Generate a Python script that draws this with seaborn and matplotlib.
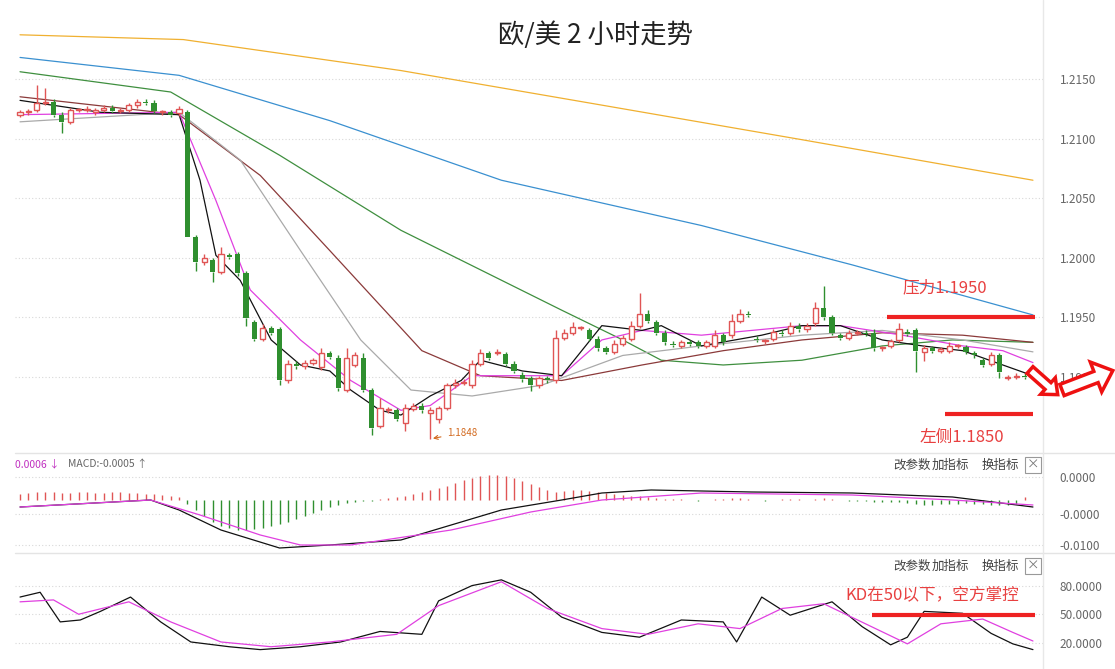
import numpy as np
import pandas as pd
import seaborn as sns
import matplotlib.pyplot as plt
from matplotlib.patches import FancyArrow
from matplotlib.lines import Line2D
from matplotlib.transforms import IdentityTransform

# ---- candles ----
opens = [1.2120,1.2122,1.2124,1.2130,1.2131,1.2120,1.2114,1.2124,1.2124,1.2122,
         1.2124,1.2126,1.2123,1.2124,1.2128,1.2131,1.2130,1.2122,1.2122,1.2121,
         1.2122,1.2017,1.1996,1.1998,1.1988,1.2002,1.2003,1.1987,1.1946,1.1932,
         1.1941,1.1940,1.1897,1.1911,1.1909,1.1912,1.1908,1.1920,1.1916,1.1889,
         1.1910,1.1916,1.1889,1.1859,1.1872,1.1872,1.1861,1.1873,1.1876,1.1870,
         1.1865,1.1874,1.1893,1.1895,1.1893,1.1911,1.1920,1.1920,1.1919,1.1911,
         1.1902,1.1899,1.1893,1.1899,1.1897,1.1933,1.1937,1.1941,1.1939,1.1932,
         1.1924,1.1921,1.1928,1.1932,1.1943,1.1953,1.1946,1.1937,1.1928,1.1926,
         1.1929,1.1929,1.1926,1.1926,1.1935,1.1935,1.1947,1.1953,1.1932,1.1930,
         1.1932,1.1937,1.1937,1.1943,1.1940,1.1945,1.1958,1.1950,1.1935,1.1933,
         1.1937,1.1937,1.1937,1.1924,1.1926,1.1931,1.1938,1.1939,1.1921,1.1924,
         1.1922,1.1922,1.1926,1.1925,1.1920,1.1914,1.1911,1.1918,1.1899,1.1900,1.1901]
closes = [1.2122,1.2123,1.2130,1.2131,1.2120,1.2114,1.2124,1.2124,1.2125,1.2124,
          1.2126,1.2123,1.2124,1.2128,1.2131,1.2130,1.2123,1.2122,1.2120,1.2125,
          1.2017,1.1996,1.2000,1.1988,1.2003,1.2001,1.1987,1.1949,1.1932,1.1941,
          1.1937,1.1897,1.1911,1.1909,1.1912,1.1914,1.1920,1.1917,1.1891,1.1916,
          1.1918,1.1889,1.1857,1.1874,1.1873,1.1865,1.1874,1.1876,1.1872,1.1872,
          1.1874,1.1893,1.1895,1.1896,1.1911,1.1920,1.1916,1.1921,1.1911,1.1905,
          1.1898,1.1893,1.1899,1.1897,1.1933,1.1937,1.1942,1.1941,1.1932,1.1924,
          1.1921,1.1928,1.1933,1.1943,1.1953,1.1947,1.1937,1.1929,1.1927,1.1929,
          1.1928,1.1926,1.1929,1.1935,1.1929,1.1947,1.1953,1.1952,1.1931,1.1930,
          1.1938,1.1936,1.1943,1.1940,1.1943,1.1958,1.1950,1.1937,1.1933,1.1937,
          1.1937,1.1936,1.1924,1.1924,1.1930,1.1940,1.1936,1.1922,1.1924,1.1922,
          1.1923,1.1926,1.1926,1.1921,1.1918,1.1910,1.1918,1.1904,1.1900,1.1901,1.1900]
# wick lengths in pips above / below the body
wick_up = [2,2,15,11,2,2,2,2,2,2, 2,2,2,2,2,2,2,2,2,2,
           2,2,3,2,6,2,2,2,2,3, 2,2,3,2,2,2,4,2,2,8,
           3,4,2,8,2,2,3,2,2,3, 2,2,3,2,3,3,2,2,2,2,
           2,2,2,2,6,3,4,2,2,2, 2,3,2,4,17,3,2,2,2,2,
           2,2,2,4,2,6,4,2,2,2, 2,2,3,2,2,5,18,2,2,2,
           2,2,3,2,2,5,2,2,3,2, 2,3,2,2,2,2,3,2,2,2,2]
wick_dn = [2,2,2,2,2,9,2,2,2,2, 2,2,2,2,2,2,2,2,2,2,
           0,7,2,8,2,2,2,6,2,2, 2,4,2,2,2,2,2,2,3,2,
           2,2,6,2,2,2,6,2,2,22, 4,2,2,2,2,2,2,2,2,2,
           2,5,2,2,2,2,2,2,2,2, 2,2,2,2,2,2,2,2,2,2,
           2,2,2,2,2,2,2,2,2,2, 2,2,2,2,2,2,2,2,2,2,
           2,2,2,2,2,2,2,18,8,2, 2,2,2,2,2,2,2,5,2,2,2]

# ---- moving averages (bar index, price) ----
ma_yellow = [(0,1.2187),(19.5,1.2183),(45.5,1.2157),(69.5,1.2128),(93.4,1.2099),(121,1.2065)]
ma_blue = [(0,1.2168),(19,1.2153),(37,1.2115),(57.5,1.2065),(81.4,1.2027),(99.4,1.1994),(121,1.1952)]
ma_green = [(0,1.2156),(18,1.2139),(31,1.2086),(45.5,1.2023),(64.7,1.1956),(72,1.1931),(76.6,1.1914),
            (84,1.1910),(93.4,1.1914),(103,1.1926),(111.4,1.1931),(121,1.1929)]
ma_brown = [(0,1.2135),(19,1.2120),(28.7,1.2069),(37,1.2006),(48,1.1922),(55,1.1901),(64.7,1.1897),
            (74.3,1.1910),(84,1.1922),(93.4,1.1931),(103,1.1937),(112.6,1.1935),(121,1.1929)]
ma_gray = [(0,1.2114),(19,1.2122),(26.3,1.2082),(33.5,1.2006),(40.7,1.1931),(46.7,1.1889),(54,1.1884),
           (62.3,1.1893),(72,1.1918),(81.4,1.1926),(93.4,1.1935),(103,1.1939),(112.6,1.1931),(121,1.1921)]
ma_magenta = [(0,1.2120),(19,1.2122),(23.4,1.2048),(27.5,1.1973),(33.5,1.1931),(39.5,1.1897),(45.5,1.1872),
              (49,1.1876),(54,1.1901),(60,1.1901),(64.7,1.1901),(69.5,1.1931),(74.3,1.1939),(81.4,1.1935),
              (93.4,1.1943),(98,1.1943),(105.4,1.1935),(112.6,1.1926),(117.4,1.1922),(121,1.1912)]
ma_black = [(0,1.2132),(9.6,1.2122),(19,1.2120),(21.5,1.2065),(23.4,1.2002),(26.3,1.1981),(30,1.1931),
            (33.5,1.1910),(37,1.1905),(39.5,1.1889),(43,1.1872),(45.5,1.1868),(49,1.1884),(52.7,1.1897),
            (55,1.1914),(60,1.1905),(64.7,1.1901),(69.5,1.1943),(74.3,1.1939),(76.6,1.1943),(81.4,1.1926),
            (88.6,1.1935),(93.4,1.1943),(98,1.1943),(103,1.1931),(107.8,1.1926),(112.6,1.1922),
            (117.4,1.1910),(121,1.1901)]

# ---- MACD ----
macd_hist = [6,7,8,8,8,7,7,8,8,7, 7,8,8,7,7,6,6,5,4,3,
             -4,-10,-16,-22,-26,-28,-30,-30,-29,-28, -26,-24,-22,-19,-16,-13,-10,-7,-5,-3,
             -2,-1,-1,1,2,3,4,6,8,10, 12,14,17,20,22,24,25,25,24,22,
             19,16,13,10,8,9,10,10,9,8, 7,6,5,4,4,3,2,1,1,1,
             0,-1,0,1,1,2,2,1,0,-1, 0,1,1,1,0,1,2,1,0,-1,
             -1,-1,-2,-2,-2,-2,-3,-4,-5,-5, -4,-4,-4,-3,-4,-4,-5,-5,-5,-4,3]
macd_dif = [(0,-7),(15.6,0),(19,-10),(24,-30),(31,-48),(37,-45),(45.5,-40),(51.5,-25),(57.5,-10),
            (64.7,0),(69.5,7),(75.4,10),(87.4,8),(99.4,7),(111.4,3),(121,-7)]
macd_dea = [(0,-7),(15.6,0),(21.5,-15),(28.7,-35),(33.5,-45),(39.5,-45),(51.5,-30),(61,-12),
            (69.5,0),(81.4,7),(99.4,5),(111.4,0),(121,-5)]
macd_ticks = [23, -14, -45]
macd_labels = ['0.0000', '-0.0000', '-0.0100']

# ---- KD ----
kd_k = [(0,68),(2.4,73),(4.8,42),(7.2,44),(9.6,53),(13.2,68),(16.8,42),(20.4,21),(25,16),(28.7,13),
        (33.5,16),(38.3,21),(43,32),(48,29),(50,64),(54,80),(57.5,86),(61,73),(64.7,47),(69.5,31),
        (74,26),(79,44),(84,42),(85.6,21),(88.6,68),(92,49),(97,63),(100.6,37),(104,18),(106,26),
        (108,53),(112.6,51),(116,30),(118.6,19),(121,13)]
kd_d = [(0,63),(4,65),(7,50),(13,63),(18,42),(24,21),(30,16),(37,21),(45,29),(50,59),(57.5,84),
        (63,56),(69.5,35),(75,29),(81,40),(86,35),(91,56),(96,61),(101,40),(106,19),(110,40),
        (115,45),(118.6,31),(121,22)]

price_ticks = [1.2150, 1.2100, 1.2050, 1.2000, 1.1950, 1.1900]

sns.set_style('white')
plt.rcParams['font.family'] = ['Noto Sans CJK SC', 'DejaVu Sans']

fig = plt.figure(figsize=(11.15, 6.69), dpi=100)
L, Wd = 15/1115, 1028/1115
ax = fig.add_axes([L, 1-452/669, Wd, 447/669])
ax2 = fig.add_axes([L, 1-552/669, Wd, 97/669])
ax3 = fig.add_axes([L, 1-652/669, Wd, 97/669])
XL = (-0.6, 122.2)

def line(a, pts, color, lw=0.9):
    d = pd.DataFrame(pts, columns=['x', 'y'])
    sns.lineplot(data=d, x='x', y='y', ax=a, color=color, lw=lw, estimator=None, sort=False)

# candles
df = pd.DataFrame({'o': opens, 'c': closes, 'wu': wick_up, 'wd': wick_dn})
df['i'] = np.arange(len(df))
df['top'] = df[['o', 'c']].max(axis=1)
df['bot'] = df[['o', 'c']].min(axis=1)
up = df['c'] >= df['o']
red, green = '#e05555', '#2f8f2f'
for m, col in [(up, red), (~up, green)]:
    s = df[m]
    ax.vlines(s['i'], s['bot'] - s['wd']*1e-4, s['bot'], color=col, lw=1, zorder=3)
    ax.vlines(s['i'], s['top'], s['top'] + s['wu']*1e-4, color=col, lw=1, zorder=3)
h = (df['top'] - df['bot']).clip(lower=0.00008)
ax.bar(df['i'][up], h[up], bottom=df['bot'][up], width=0.62, facecolor='white', edgecolor=red, lw=1, zorder=4)
ax.bar(df['i'][~up], h[~up], bottom=df['bot'][~up], width=0.62, color=green, lw=0, zorder=4)

for pts, col in [(ma_yellow, '#f0b030'), (ma_blue, '#3a90d0'), (ma_green, '#3f8f3f'), (ma_brown, '#8b3a3a'),
                 (ma_gray, '#aaaaaa'), (ma_magenta, '#e040e0'), (ma_black, '#111111')]:
    line(ax, pts, col)

ax.set_xlim(*XL)
ax.set_ylim(1.1837, 1.2212)
ax.set_yticks(price_ticks)
ax.set_yticklabels([f'{v:.4f}' for v in price_ticks])

# support / resistance
ax.hlines(1.1950, 103.6, 121.2, color='#ee2222', lw=3, zorder=6)
ax.hlines(1.1869, 110.5, 121.0, color='#ee2222', lw=3, zorder=6)
ax.text(110.5, 1.1975, '压力1.1950', color='#e84040', fontsize=12, ha='center', va='center')
ax.text(112.5, 1.1849, '左侧1.1850', color='#e84040', fontsize=12, ha='center', va='center')
ax.annotate('1.1848', xy=(49, 1.1848), xytext=(51, 1.1853), color='#d2691e', fontsize=7, va='center',
            arrowprops=dict(arrowstyle='->', color='#d2691e', lw=0.8))

# MACD
hist = pd.Series(macd_hist)
idx = np.arange(len(hist))
ax2.vlines(idx[hist >= 0], 0, hist[hist >= 0], color=red, lw=1)
ax2.vlines(idx[hist < 0], 0, hist[hist < 0], color=green, lw=1)
line(ax2, macd_dif, '#111111')
line(ax2, macd_dea, '#e040e0')
ax2.set_xlim(*XL)
ax2.set_ylim(-52, 45)
ax2.set_yticks(macd_ticks)
ax2.set_yticklabels(macd_labels)

# KD
line(ax3, kd_k, '#111111')
line(ax3, kd_d, '#e040e0')
ax3.hlines(49, 101.8, 121.2, color='#ee2222', lw=3, zorder=6)
ax3.text(109, 70.5, 'KD在50以下，空方掌控', color='#e84040', fontsize=12, ha='center', va='center')
ax3.set_xlim(*XL)
ax3.set_ylim(10.5, 112)
ax3.set_yticks([80, 50, 20])
ax3.set_yticklabels(['80.0000', '50.0000', '20.0000'])

for a in (ax, ax2, ax3):
    a.set_xlabel('')
    a.set_ylabel('')
    a.set_xticks([])
    a.yaxis.tick_right()
    a.tick_params(axis='y', length=0, pad=12, labelsize=8.5, labelcolor='#666666')
    a.grid(axis='y', color='#d8d8d8', ls=(0, (1, 2)), lw=0.8)
    for s in a.spines.values():
        s.set_visible(False)
    a.set_facecolor('none')

# frame lines
for yy in (453, 553):
    fig.add_artist(Line2D([15/1115, 1], [1-yy/669]*2, color='#e4e4e4', lw=1))
fig.add_artist(Line2D([1043/1115]*2, [0, 1], color='#e8e8e8', lw=1))

fig.text(596/1115, 1-35/669, '欧/美 2 小时走势', fontsize=19, ha='center', va='center', color='#222222')
fig.text(15/1115, 1-464/669, '0.0006 ↓', fontsize=7.5, color='#c030c0', va='center')
fig.text(68/1115, 1-464/669, 'MACD:-0.0005 ↑', fontsize=7.5, color='#666666', va='center')
for yy in (465, 566):
    for xx, t in [(912, '改参数'), (950, '加指标'), (1000, '换指标')]:
        fig.text(xx/1115, 1-yy/669, t, fontsize=9, ha='center', va='center', color='#444444')
    fig.text(1033/1115, 1-yy/669, '×', fontsize=9, ha='center', va='center', color='#777777',
             bbox=dict(boxstyle='square,pad=0.15', fc='white', ec='#999999', lw=0.8))

# hollow red arrows
for x0, y0, dx, dy, w, hw, hl in [(1030, 299, 18, -16, 9, 22, 13), (1062, 279, 34, 13, 12, 32, 18)]:
    fig.add_artist(FancyArrow(x0, y0, dx, dy, width=w, head_width=hw, head_length=hl,
                              length_includes_head=False, transform=IdentityTransform(),
                              fc='white', ec='#ee1111', lw=2.5, zorder=20))

fig.savefig('out.png', dpi=100)
